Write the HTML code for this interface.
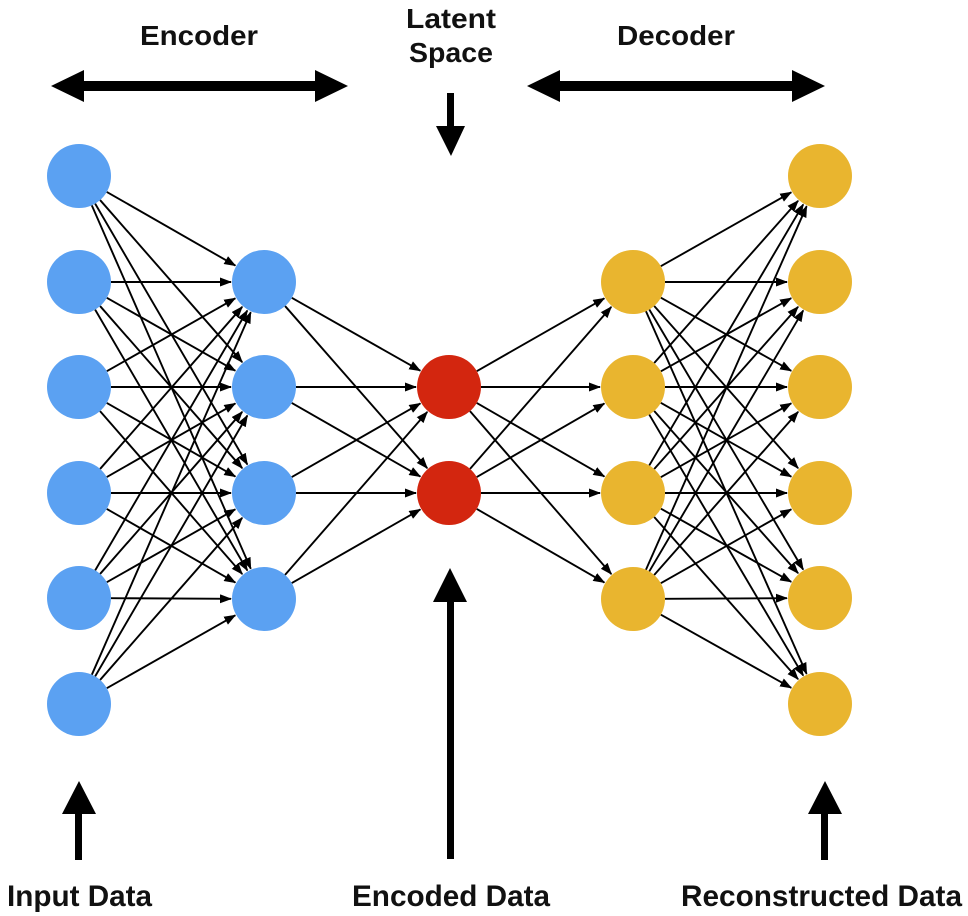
<!DOCTYPE html>
<html><head><meta charset="utf-8"><style>body{margin:0;background:#fff}svg{display:block}text{font-family:"Liberation Sans",sans-serif;font-weight:bold;fill:#111}</style></head>
<body>
<svg id="s" width="968" height="916" viewBox="0 0 968 916" xmlns="http://www.w3.org/2000/svg">
<defs><marker id="a" markerWidth="12" markerHeight="9" refX="11" refY="4.5" orient="auto" markerUnits="userSpaceOnUse"><path d="M0,0 L12,4.5 L0,9 Z" fill="#000"/></marker></defs>
<g id="edges" stroke="#000" stroke-width="1.9"></g>
<g id="nodes"></g>
<text x="140" y="45" font-size="28" textLength="118" lengthAdjust="spacingAndGlyphs">Encoder</text>
<text x="406" y="28" font-size="28" textLength="90" lengthAdjust="spacingAndGlyphs">Latent</text>
<text x="409" y="62" font-size="28" textLength="84" lengthAdjust="spacingAndGlyphs">Space</text>
<text x="617" y="45" font-size="28" textLength="118" lengthAdjust="spacingAndGlyphs">Decoder</text>
<path d="M51,86 L84,70 L84,81 L315,81 L315,70 L348,86 L315,102 L315,91 L84,91 L84,102 Z" fill="#000"/>
<path d="M527,86 L560,70 L560,81 L792,81 L792,70 L825,86 L792,102 L792,91 L560,91 L560,102 Z" fill="#000"/>
<rect x="447" y="93" width="7" height="35" fill="#000"/><path d="M436,126 L465,126 L451,156 Z" fill="#000"/>
<rect x="75" y="812" width="7" height="48" fill="#000"/><path d="M62,814 L96,814 L79,781 Z" fill="#000"/>
<rect x="447" y="600" width="7" height="259" fill="#000"/><path d="M433,602 L467,602 L450,568 Z" fill="#000"/>
<rect x="821" y="812" width="7" height="48" fill="#000"/><path d="M808,814 L842,814 L825,781 Z" fill="#000"/>
<text x="7" y="906" font-size="30" textLength="145" lengthAdjust="spacingAndGlyphs">Input Data</text>
<text x="352" y="906" font-size="30" textLength="198" lengthAdjust="spacingAndGlyphs">Encoded Data</text>
<text x="681" y="906" font-size="30" textLength="281" lengthAdjust="spacingAndGlyphs">Reconstructed Data</text>
</svg>
<script>
var L=[{x:79,ys:[176,282,387,493,598,704],c:"#5ba1f2"},{x:264,ys:[282,387,493,599],c:"#5ba1f2"},{x:449,ys:[387,493],c:"#d3260f"},{x:633,ys:[282,387,493,599],c:"#e9b52f"},{x:820,ys:[176,282,387,493,598,704],c:"#e9b52f"}];
var r=32,ns="http://www.w3.org/2000/svg",E=document.getElementById("edges"),N=document.getElementById("nodes");
for(var i=0;i<4;i++){var A=L[i],B=L[i+1];A.ys.forEach(function(y1){B.ys.forEach(function(y2){var dx=B.x-A.x,dy=y2-y1,d=Math.sqrt(dx*dx+dy*dy),ux=dx/d,uy=dy/d;var l=document.createElementNS(ns,"line");l.setAttribute("x1",A.x+ux*r);l.setAttribute("y1",y1+uy*r);l.setAttribute("x2",B.x-ux*(r+1));l.setAttribute("y2",y2-uy*(r+1));l.setAttribute("marker-end","url(#a)");E.appendChild(l);});});}
L.forEach(function(c){c.ys.forEach(function(y){var e=document.createElementNS(ns,"circle");e.setAttribute("cx",c.x);e.setAttribute("cy",y);e.setAttribute("r",r);e.setAttribute("fill",c.c);N.appendChild(e);});});
</script>
</body></html>
